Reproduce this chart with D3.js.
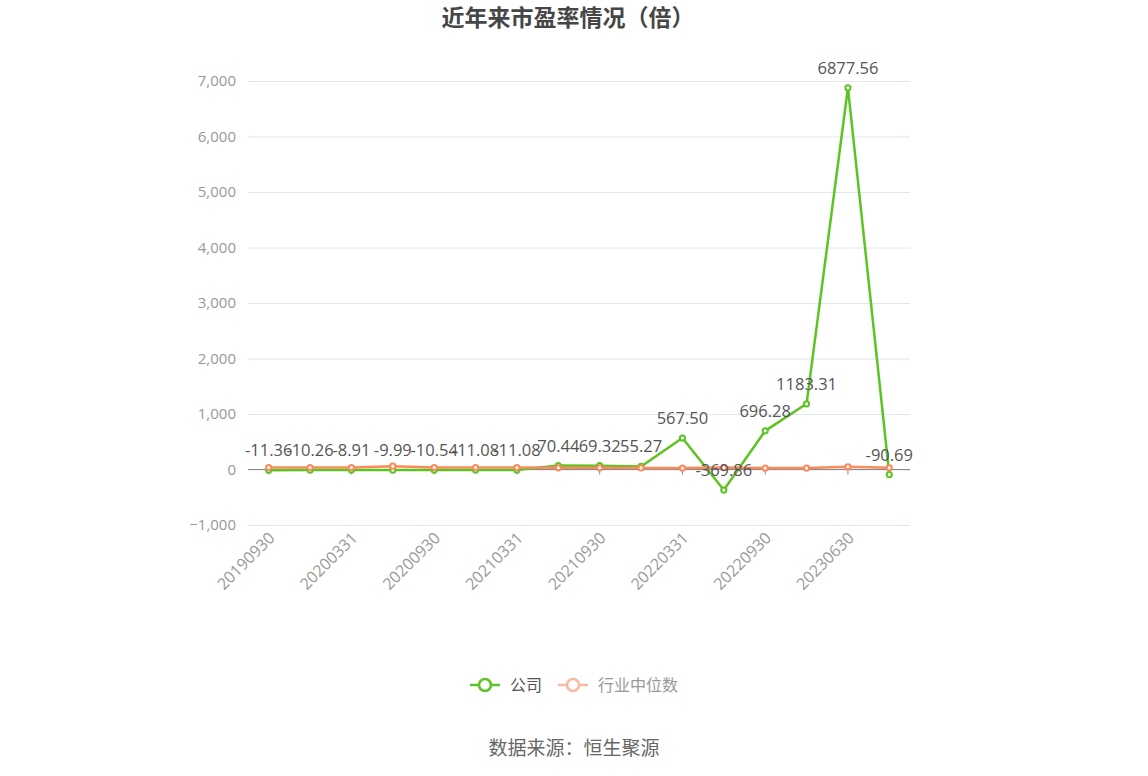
<!DOCTYPE html>
<html>
<head>
<meta charset="utf-8">
<script src="https://cdn.jsdelivr.net/npm/d3@7"></script>
<style>
  html, body { margin: 0; padding: 0; background: #fff; }
  svg { display: block; font-family: "Noto Sans CJK SC", "Noto Sans", sans-serif; }
</style>
</head>
<body>
<svg width="1148" height="776"></svg>
<script>
const dates = ['20190930', '20191231', '20200331', '20200630', '20200930', '20201231',
  '20210331', '20210630', '20210930', '20211231', '20220331', '20220630',
  '20220930', '20221231', '20230630', '20230930']
const company = [-11.36, -10.26, -8.91, -9.99, -10.54, -11.08, -11.08, 70.44, 69.32,
  55.27, 567.50, -369.86, 696.28, 1183.31, 6877.56, -90.69]
const industry = [35, 36, 36, 60, 36, 35, 35, 30, 30, 28, 25, 35, 25, 26, 50, 30]
const yTicks = [-1000, 0, 1000, 2000, 3000, 4000, 5000, 6000, 7000]

const green = '#5cc422'
const orange = '#fb8a5a'
const numFont = '"Open Sans", "Noto Sans", sans-serif'

const svg = d3.select('svg')

// title
svg.append('text')
  .attr('x', 568).attr('y', 26)
  .attr('text-anchor', 'middle')
  .attr('font-size', 23).attr('font-weight', 'bold')
  .attr('fill', '#464646')
  .text('近年来市盈率情况（倍）')

const x = d3.scaleBand().domain(dates).range([248, 910])
const cx = (d) => x(d) + x.bandwidth() / 2
const y = d3.scaleLinear().domain([-1000, 7000]).range([525, 81])

// grid + y labels
const yAxis = svg.append('g')
  .attr('transform', 'translate(248,0)')
  .call(d3.axisLeft(y).tickValues(yTicks).tickSize(-662).tickPadding(12)
    .tickFormat(d3.format(',')))
yAxis.select('.domain').remove()
yAxis.selectAll('line').attr('stroke', '#e0e6f1')
yAxis.selectAll('text').attr('fill', '#999').attr('font-size', 15)
  .attr('font-family', numFont)

// x axis at zero
const xAxis = svg.append('g')
  .attr('transform', `translate(0,${y(0)})`)
  .call(d3.axisBottom(x).tickValues(dates.filter((d, i) => i % 2 === 0))
    .tickSize(5).tickFormat(''))
xAxis.select('.domain').attr('stroke', '#888').attr('d', 'M248,0H910')
xAxis.selectAll('line').attr('stroke', '#888')

// rotated x labels below plot
svg.append('g').selectAll('text')
  .data(dates.filter((d, i) => i % 2 === 0))
  .join('text')
  .attr('transform', (d) => `translate(${cx(d) + 3},${y(-1000) + 10}) rotate(-45)`)
  .attr('text-anchor', 'end')
  .attr('dy', '0.35em')
  .attr('font-size', 16)
  .attr('font-family', numFont)
  .attr('fill', '#999')
  .text((d) => d)

const line = d3.line().x((d, i) => cx(dates[i])).y((d) => y(d))

const drawSeries = (vals, color) => {
  svg.append('path')
    .datum(vals)
    .attr('fill', 'none')
    .attr('stroke', color)
    .attr('stroke-width', 2.5)
    .attr('stroke-linejoin', 'round')
    .attr('d', line)
  svg.append('g').selectAll('circle')
    .data(vals)
    .join('circle')
    .attr('cx', (d, i) => cx(dates[i]))
    .attr('cy', (d) => y(d))
    .attr('r', 2.6)
    .attr('fill', '#fff')
    .attr('stroke', color)
    .attr('stroke-width', 2)
}

drawSeries(company, green)
drawSeries(industry, orange)

// value labels for company
svg.append('g').selectAll('text')
  .data(company)
  .join('text')
  .attr('x', (d, i) => cx(dates[i]))
  .attr('y', (d) => y(d) - 14)
  .attr('text-anchor', 'middle')
  .attr('font-size', 16.5)
  .attr('font-family', numFont)
  .attr('fill', '#555')
  .text((d) => d.toFixed(2))

// legend
const legend = svg.append('g').attr('transform', 'translate(0,685)')
const items = [
  { name: '公司', color: green, text: '#555', x: 470 },
  { name: '行业中位数', color: '#f9b8a0', text: '#999', x: 558 }
]
items.forEach((it) => {
  legend.append('line')
    .attr('x1', it.x).attr('x2', it.x + 30)
    .attr('stroke', it.color).attr('stroke-width', 2.5)
  legend.append('circle')
    .attr('cx', it.x + 15).attr('r', 6)
    .attr('fill', '#fff').attr('stroke', it.color).attr('stroke-width', 2.5)
  legend.append('text')
    .attr('x', it.x + 40).attr('dy', '0.35em')
    .attr('font-size', 16).attr('fill', it.text)
    .text(it.name)
})

// source
svg.append('text')
  .attr('x', 574).attr('y', 755)
  .attr('text-anchor', 'middle')
  .attr('font-size', 19).attr('fill', '#666')
  .text('数据来源：恒生聚源')
</script>
</body>
</html>
